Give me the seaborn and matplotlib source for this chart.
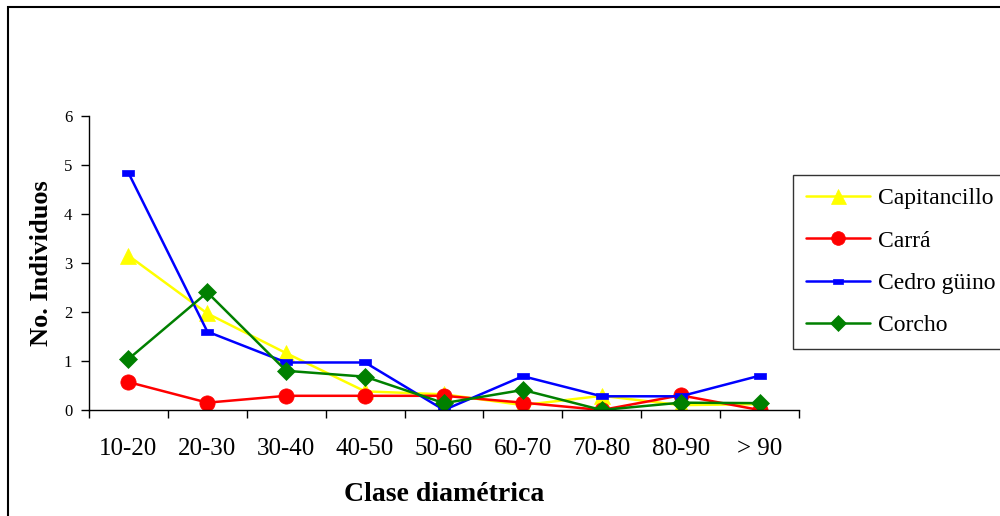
import numpy as np
import pandas as pd
import matplotlib
matplotlib.use("Agg")
import matplotlib.pyplot as plt
from matplotlib.path import Path
from matplotlib.patches import Rectangle
import seaborn as sns

categories = ["10-20", "20-30", "30-40", "40-50", "50-60", "60-70", "70-80", "80-90", "> 90"]
capitancillo = [3.15, 1.97, 1.16, 0.38, 0.32, 0.10, 0.29, 0.10, 0.12]
carra = [0.57, 0.15, 0.29, 0.29, 0.29, 0.15, 0.00, 0.30, 0.00]
cedro_guino = [4.84, 1.60, 0.97, 0.97, 0.00, 0.69, 0.28, 0.28, 0.70]
corcho = [1.04, 2.40, 0.80, 0.68, 0.14, 0.41, 0.00, 0.15, 0.14]
series_names = ["Capitancillo", "Carrá", "Cedro güino", "Corcho"]
y_ticks = [0, 1, 2, 3, 4, 5, 6]

sns.set_theme(style="white")
plt.rcParams["font.family"] = ["Liberation Serif", "DejaVu Serif"]
plt.rcParams["text.color"] = "black"
plt.rcParams["axes.labelcolor"] = "black"
plt.rcParams["xtick.color"] = "black"
plt.rcParams["ytick.color"] = "black"

fig = plt.figure(figsize=(10, 5.16), dpi=100)
ax = fig.add_axes([0.089, 0.2054, 0.710, 0.5698])

dash = Path([(-1, -0.5), (1, -0.5), (1, 0.5), (-1, 0.5), (-1, -0.5)],
            [Path.MOVETO, Path.LINETO, Path.LINETO, Path.LINETO, Path.CLOSEPOLY])

styles = [
    dict(color="#FFFF00", marker="^", markersize=12),
    dict(color="#FF0000", marker="o", markersize=11),
    dict(color="#0000FF", marker=dash, markersize=8),
    dict(color="#008000", marker="D", markersize=9),
]
values = [capitancillo, carra, cedro_guino, corcho]

x = np.arange(len(categories))
for name, vals, st in zip(series_names, values, styles):
    df = pd.DataFrame({"x": x, "y": vals})
    sns.lineplot(data=df, x="x", y="y", ax=ax, label=name, color=st["color"],
                 marker=st["marker"], markersize=st["markersize"],
                 markeredgecolor=st["color"], markerfacecolor=st["color"],
                 linewidth=1.8, markeredgewidth=0.5)

ax.set_xlim(-0.5, len(categories) - 0.5)
ax.set_ylim(0, 6)
ax.set_yticks(y_ticks)
ax.set_yticklabels([str(t) for t in y_ticks], fontsize=12)
ax.set_xticks(np.arange(len(categories) + 1) - 0.5)
ax.set_xticklabels([])
ax.set_xticks(x, minor=True)
ax.set_xticklabels(categories, minor=True, fontsize=18)
ax.tick_params(axis="x", which="minor", length=0, pad=20)
ax.tick_params(axis="x", which="major", direction="out", length=6, width=1, color="black", bottom=True)
ax.tick_params(axis="y", direction="out", length=6, width=1, color="black", left=True, pad=6)

for s in ["top", "right"]:
    ax.spines[s].set_visible(False)
for s in ["left", "bottom"]:
    ax.spines[s].set_color("black")
    ax.spines[s].set_linewidth(1)

ax.set_xlabel("Clase diamétrica", fontsize=20, fontweight="bold", labelpad=16)
ax.set_ylabel("No. Individuos", fontsize=19, fontweight="bold", labelpad=8)

leg = ax.legend(loc="upper left", bbox_to_anchor=(0.793, 0.661), bbox_transform=fig.transFigure,
                fontsize=17, frameon=True, fancybox=False, edgecolor="black",
                handlelength=2.7, labelspacing=0.88, borderpad=0.55, handletextpad=0.35,
                borderaxespad=0)
leg.get_frame().set_linewidth(1)
for h in leg.legend_handles:
    h.set_markersize(h.get_markersize() * 0.9)

fig.patches.append(Rectangle((0.008, -0.05), 1.0, 0.9864 + 0.05, transform=fig.transFigure,
                             fill=False, edgecolor="black", linewidth=1.5))

fig.savefig("out.png", dpi=100, facecolor="white")
